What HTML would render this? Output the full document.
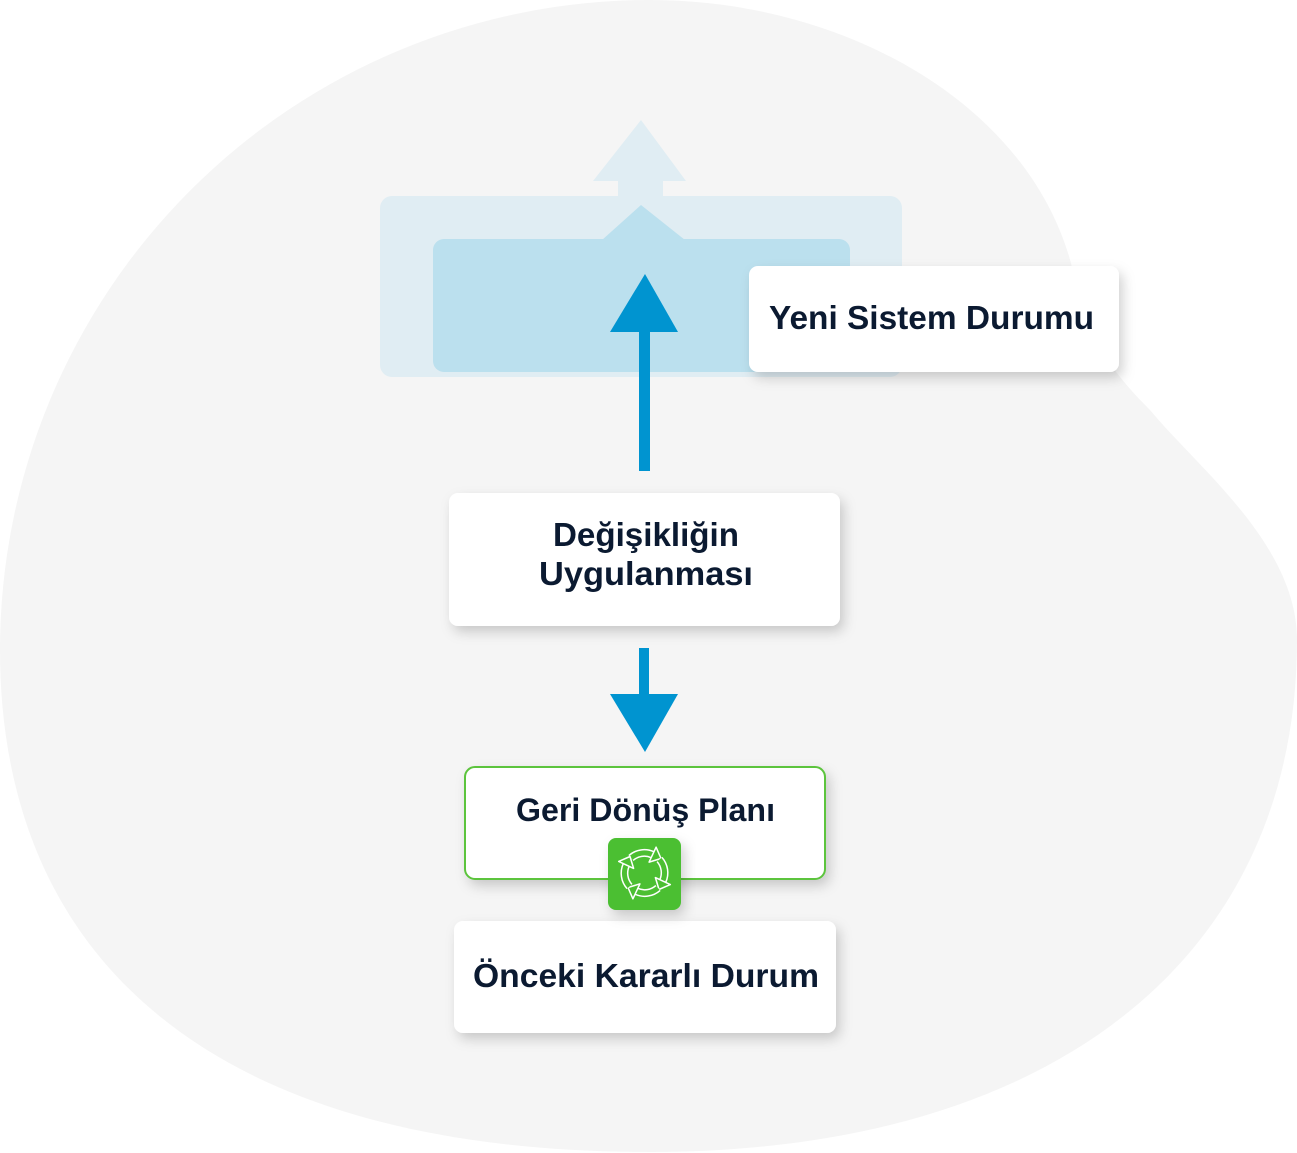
<!DOCTYPE html>
<html>
<head>
<meta charset="utf-8">
<style>
  html, body { margin: 0; padding: 0; background: #ffffff; }
  body { width: 1297px; height: 1153px; overflow: hidden; }
  svg { display: block; }
  .t { font-family: "Liberation Sans", "DejaVu Sans", sans-serif; font-weight: bold; fill: #0b1a31; }
</style>
</head>
<body>
<svg width="1297" height="1153" viewBox="0 0 1297 1153" xmlns="http://www.w3.org/2000/svg">
  <defs>
    <filter id="sh" x="-20%" y="-30%" width="140%" height="170%">
      <feDropShadow dx="4" dy="6" stdDeviation="6" flood-color="#000" flood-opacity="0.18"/>
    </filter>
  </defs>

  <!-- background blob -->
  <path d="M 650 0 C 850 0 1040 110 1075 280 C 1090 340 1110 370 1150 410 C 1200 470 1297 545 1297 640 C 1297 960 1050 1152 650 1152 C 200 1152 0 950 0 650 A 650 650 0 0 1 650 0 Z" fill="#f5f5f5"/>

  <!-- ghost layers -->
  <rect x="380" y="196" width="522" height="181" rx="12" fill="#e0edf3"/>
  <polygon points="641,120 686,181 663,181 663,197 618,197 618,181 593,181" fill="#e0edf3"/>
  <rect x="433" y="239" width="417" height="133" rx="11" fill="#bbe0ee"/>
  <polygon points="602,240 641,205 685,240" fill="#bbe0ee"/>

  <!-- up arrow -->
  <rect x="639" y="330" width="11" height="141" fill="#0094d0"/>
  <polygon points="645,274 678,332 610,332" fill="#0094d0"/>

  <!-- Yeni Sistem Durumu card -->
  <rect x="749" y="266" width="370" height="106" rx="9" fill="#ffffff" filter="url(#sh)"/>
  <text class="t" x="931.5" y="329" font-size="33" text-anchor="middle" textLength="325" lengthAdjust="spacingAndGlyphs">Yeni Sistem Durumu</text>

  <!-- Değişikliğin Uygulanması card -->
  <rect x="449" y="493" width="391" height="133" rx="9" fill="#ffffff" filter="url(#sh)"/>
  <text class="t" x="646" y="546" font-size="33" text-anchor="middle" textLength="186" lengthAdjust="spacingAndGlyphs">Değişikliğin</text>
  <text class="t" x="646" y="585" font-size="33" text-anchor="middle" textLength="214" lengthAdjust="spacingAndGlyphs">Uygulanması</text>

  <!-- down arrow -->
  <rect x="639" y="648" width="10" height="48" fill="#0094d0"/>
  <polygon points="610,694 678,694 645,752" fill="#0094d0"/>

  <!-- Geri Dönüş Planı card -->
  <rect x="465" y="767" width="360" height="112" rx="10" fill="#ffffff" stroke="#5cc43c" stroke-width="2" filter="url(#sh)"/>
  <text class="t" x="645.5" y="821" font-size="32" text-anchor="middle" textLength="259" lengthAdjust="spacingAndGlyphs">Geri Dönüş Planı</text>

  <!-- Önceki Kararlı Durum card -->
  <rect x="454" y="921" width="382" height="112" rx="9" fill="#ffffff" filter="url(#sh)"/>
  <text class="t" x="646" y="987" font-size="33.5" text-anchor="middle" textLength="346" lengthAdjust="spacingAndGlyphs">Önceki Kararlı Durum</text>

  <!-- green icon -->
  <rect x="608" y="838" width="73" height="72" rx="8" fill="#4cbf32" filter="url(#sh)"/>
  <g transform="translate(644.5,873)">
    <g>
      <path d="M -13.5 -15.0 A 20 20 0 0 1 8.0 -18.3" fill="none" stroke="#ffffff" stroke-width="8"/>
      <path d="M -13.5 -15.0 A 20 20 0 0 1 8.0 -18.3" fill="none" stroke="#4cbf32" stroke-width="5"/>
      <polygon points="4.6,-10.9 11.6,-25.8 16.5,-14.5" fill="#4cbf32" stroke="#ffffff" stroke-width="1.5" stroke-linejoin="round"/>
    </g>
    <g transform="rotate(90)">
      <path d="M -13.5 -15.0 A 20 20 0 0 1 8.0 -18.3" fill="none" stroke="#ffffff" stroke-width="8"/>
      <path d="M -13.5 -15.0 A 20 20 0 0 1 8.0 -18.3" fill="none" stroke="#4cbf32" stroke-width="5"/>
      <polygon points="4.6,-10.9 11.6,-25.8 16.5,-14.5" fill="#4cbf32" stroke="#ffffff" stroke-width="1.5" stroke-linejoin="round"/>
    </g>
    <g transform="rotate(180)">
      <path d="M -13.5 -15.0 A 20 20 0 0 1 8.0 -18.3" fill="none" stroke="#ffffff" stroke-width="8"/>
      <path d="M -13.5 -15.0 A 20 20 0 0 1 8.0 -18.3" fill="none" stroke="#4cbf32" stroke-width="5"/>
      <polygon points="4.6,-10.9 11.6,-25.8 16.5,-14.5" fill="#4cbf32" stroke="#ffffff" stroke-width="1.5" stroke-linejoin="round"/>
    </g>
    <g transform="rotate(270)">
      <path d="M -13.5 -15.0 A 20 20 0 0 1 8.0 -18.3" fill="none" stroke="#ffffff" stroke-width="8"/>
      <path d="M -13.5 -15.0 A 20 20 0 0 1 8.0 -18.3" fill="none" stroke="#4cbf32" stroke-width="5"/>
      <polygon points="4.6,-10.9 11.6,-25.8 16.5,-14.5" fill="#4cbf32" stroke="#ffffff" stroke-width="1.5" stroke-linejoin="round"/>
    </g>
  </g>
</svg>
</body>
</html>
